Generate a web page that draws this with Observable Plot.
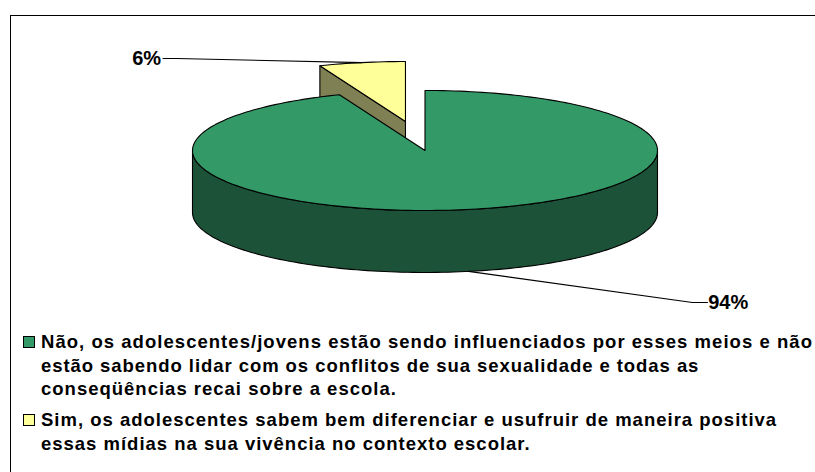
<!DOCTYPE html>
<html>
<head>
<meta charset="utf-8">
<script src="https://cdn.jsdelivr.net/npm/d3@7"></script>
<script src="https://cdn.jsdelivr.net/npm/@observablehq/plot@0.6"></script>
<style>
  html, body { margin: 0; padding: 0; background: #fff; width: 815px; height: 472px; overflow: hidden; }
  #chart { position: relative; width: 815px; height: 472px; font-family: "Liberation Sans", Arial, sans-serif; }
  #frame { position: absolute; left: 10px; top: 15px; width: 805px; height: 457px; border-left: 1.5px solid #000; border-top: 1.5px solid #000; box-sizing: border-box; }
  #plot { position: absolute; left: 0; top: 0; }
  #plot svg { display: block; background: transparent; }
  .item { position: absolute; left: 41px; font-weight: 700; font-size: 18.5px; color: #000; white-space: nowrap; }
  .swatch { position: absolute; left: 23px; width: 10px; height: 10px; border: 1.2px solid #000; box-sizing: content-box; }
</style>
</head>
<body>
<div id="chart">
  <div id="frame"></div>
  <div id="plot"></div>
</div>
<script>
const legendLines = [
  ["Não, os adolescentes/jovens estão sendo influenciados por esses meios e não", "estão sabendo lidar com os conflitos de sua sexualidade e todas as", "conseqüências recai sobre a escola."],
  ["Sim, os adolescentes sabem bem diferenciar e usufruir de maneira positiva", "essas mídias na sua vivência no contexto escolar."]
];
const values = [94, 6];
const labels = ["94%", "6%"];
const topColors = ["#339966", "#FFFF99"];
const sideColors = ["#1C5238", "#808055"];

// Pie geometry in unit-ellipse coordinates; the x and y scales place it on the page.
const depth = 1.033;
const explode = {x: -0.084, y: 0.483};
const total = d3.sum(values);
const turn = 2 * Math.PI / total;
const endOfGreen = values[0] * turn;
const rim = (a, o = {x: 0, y: 0}, drop = 0) => ({x: o.x + Math.sin(a), y: o.y + Math.cos(a) - drop});
function arcPts(a0, a1, o, drop) {
  const n = Math.max(2, Math.ceil(Math.abs(a1 - a0) * 40));
  return d3.range(n + 1).map(i => rim(a0 + (a1 - a0) * i / n, o, drop));
}
const zero = {x: 0, y: 0};
const closed = (pts) => [...pts, pts[0]];

const yellowCut = closed([
  rim(endOfGreen, explode), {x: explode.x, y: explode.y},
  {x: explode.x, y: explode.y - depth}, rim(endOfGreen, explode, depth)
]);
const yellowTop = closed([{x: explode.x, y: explode.y}, ...arcPts(endOfGreen, 2 * Math.PI, explode, 0)]);
const greenWall = closed([
  ...arcPts(Math.PI / 2, 3 * Math.PI / 2, zero, 0),
  ...arcPts(3 * Math.PI / 2, Math.PI / 2, zero, depth)
]);
const greenTop = closed([{x: 0, y: 0}, ...arcPts(0, endOfGreen, zero, 0)]);

const midGreen = values[0] / 2 * turn;
const midYellow = endOfGreen + values[1] / 2 * turn;
const leaderGreenStart = rim(midGreen, zero, depth);
const leaderYellowEnd = rim(midYellow, explode, 0);
const leader94 = [leaderGreenStart, {x: 1.15, y: -2.533}, {x: 1.215, y: -2.533}];
const leader6 = [{x: -1.127, y: 1.533}, {x: -1.07, y: 1.533}, leaderYellowEnd];
const labelPts = [
  {x: 1.218, y: -2.533, text: labels[0]},
  {x: -1.135, y: 1.533, text: labels[1]}
];

const poly = (pts, fill) => Plot.line(pts, {x: "x", y: "y", fill, stroke: "#000", strokeWidth: 1.1, strokeLinejoin: "round", curve: "linear"});
const font = "Liberation Sans, Arial, sans-serif";

const chart = Plot.plot({
  width: 815,
  height: 340,
  margin: 0,
  style: {background: "transparent"},
  x: {domain: [-1, 1], range: [192, 657], axis: null},
  y: {domain: [-1, 1], range: [210, 90], axis: null},
  marks: [
    poly(yellowCut, sideColors[1]),
    poly(yellowTop, topColors[1]),
    poly(greenWall, sideColors[0]),
    poly(greenTop, topColors[0]),
    Plot.line(leader94, {x: "x", y: "y", stroke: "#000", strokeWidth: 1.1}),
    Plot.line(leader6, {x: "x", y: "y", stroke: "#000", strokeWidth: 1.1}),
    Plot.text(labelPts.slice(0, 1), {x: "x", y: "y", text: "text", textAnchor: "start", fontSize: 20, fontWeight: 700, fontFamily: font, fill: "#000"}),
    Plot.text(labelPts.slice(1), {x: "x", y: "y", text: "text", textAnchor: "end", fontSize: 20, fontWeight: 700, fontFamily: font, fill: "#000"})
  ]
});
document.getElementById("plot").appendChild(chart);

// legend
const root = document.getElementById("chart");
const lineTops = [[331, 355, 378], [409, 433]];
const lineSpacing = [[1.04, 0.94, 1.0], [1.0, 0.99]];
const swatchTops = [336, 414];
legendLines.forEach((lines, i) => {
  const sw = document.createElement("div");
  sw.className = "swatch";
  sw.style.top = swatchTops[i] + "px";
  sw.style.background = topColors[i];
  root.appendChild(sw);
  lines.forEach((t, j) => {
    const el = document.createElement("div");
    el.className = "item";
    el.textContent = t;
    el.style.top = lineTops[i][j] + "px";
    el.style.letterSpacing = lineSpacing[i][j] + "px";
    root.appendChild(el);
  });
});
</script>
</body>
</html>
